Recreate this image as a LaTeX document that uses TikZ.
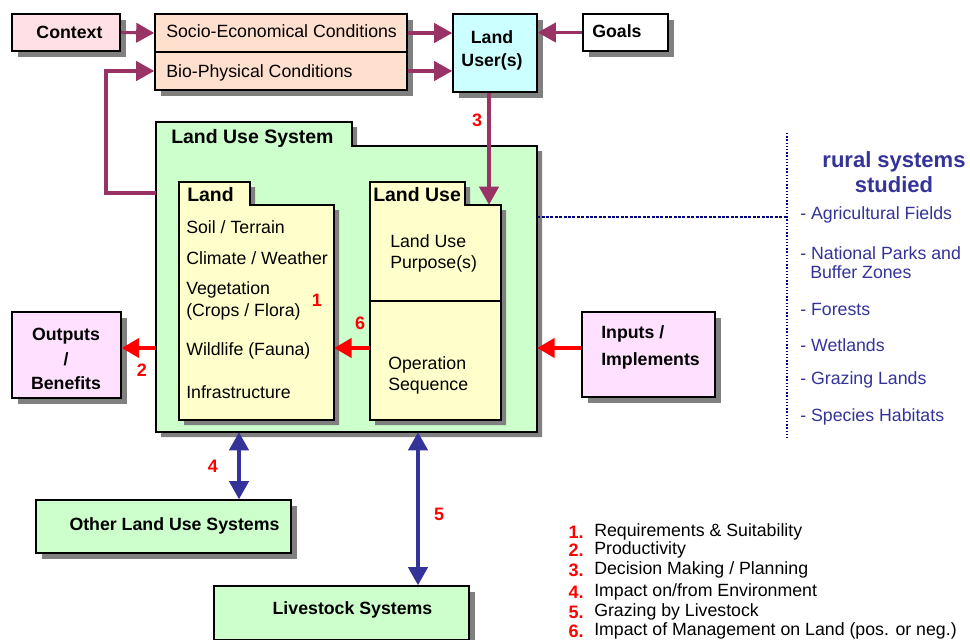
\documentclass[tikz,border=0pt]{standalone}
\usepackage{fontspec}
\setmainfont{Liberation Sans}
\usetikzlibrary{arrows.meta,shadows}

\definecolor{ctxpink}{HTML}{FFE0E6}
\definecolor{condpeach}{HTML}{FFE0CF}
\definecolor{usercyan}{HTML}{CCFFFF}
\definecolor{lusgreen}{HTML}{CCFFCC}
\definecolor{landyellow}{HTML}{FFFFCC}
\definecolor{iopink}{HTML}{FFE1FF}
\definecolor{plum}{HTML}{993366}
\definecolor{listblue}{HTML}{333399}
\definecolor{dotnavy}{HTML}{000080}
\definecolor{shadowgray}{HTML}{808080}

\tikzset{
  wh/.style 2 args={minimum width=#1*0.75pt, minimum height=#2*0.75pt},
  box/.style={draw=black, line width=1.2pt, inner sep=0pt,
    drop shadow={shadow xshift=4.5pt, shadow yshift=-4.5pt, fill=shadowgray, opacity=1}},
  area/.style={inner sep=0pt, draw=none},
  txt/.style={inner sep=0pt, font=\fontsize{13.3}{16}\selectfont},
  btxt/.style={inner sep=0pt, font=\bfseries\fontsize{13.3}{16}\selectfont},
  ttl/.style={inner sep=0pt, font=\bfseries\fontsize{14.6}{17}\selectfont},
  num/.style={inner sep=0pt, text=red, font=\bfseries\fontsize{13.5}{16}\selectfont},
  blist/.style={inner sep=0pt, text=listblue, font=\fontsize{13.3}{16}\selectfont},
  parrow/.style={draw=plum, line width=2.3pt, -{Triangle[length=13.5pt,width=14.5pt]}},
  rarrow/.style={draw=red, line width=2.3pt, -{Triangle[length=13pt,width=14.5pt]}},
  barrow/.style={draw=listblue, line width=2.3pt,
    {Triangle[length=13.5pt,width=14.5pt]}-{Triangle[length=13.5pt,width=14.5pt]}},
  dotthick/.style={draw=dotnavy, line width=2.2pt, dash pattern=on 2.2pt off 1.1pt},
  dotthin/.style={draw=dotnavy, line width=1.1pt, dash pattern=on 1.1pt off 1.3pt},
}

\begin{document}
\begin{tikzpicture}[x=0.75pt,y=-0.75pt]
\useasboundingbox (0,0) rectangle (970,639);

% ---- Land Use System folder with its two inner folders ----
\begin{scope}[shift={(5,5)}]
  \fill[shadowgray] (156,432) -- (156,122) -- (352,122) -- (352,146) -- (537,146) -- (537,432) -- cycle;
\end{scope}
\filldraw[fill=lusgreen, draw=black, line width=1pt]
  (156,432) -- (156,122) -- (352,122) -- (352,146) -- (537,146) -- (537,432) -- cycle;

\begin{scope}[shift={(5,5)}]
  \fill[shadowgray] (179,420) -- (179,182) -- (250,182) -- (250,205) -- (334,205) -- (334,420) -- cycle;
  \fill[shadowgray] (370,420) -- (370,182) -- (465,182) -- (465,205) -- (501,205) -- (501,420) -- cycle;
\end{scope}
\filldraw[fill=landyellow, draw=black, line width=0.8pt]
  (179,420) -- (179,182) -- (250,182) -- (250,205) -- (334,205) -- (334,420) -- cycle;
\filldraw[fill=landyellow, draw=black, line width=0.8pt]
  (370,420) -- (370,182) -- (465,182) -- (465,205) -- (501,205) -- (501,420) -- cycle;
\draw[line width=0.8pt] (370,301) -- (501,301);

% bodies of the folders, named for the connectors
\node[area, wh={381}{286}] (lus) at (346.5,289) {};
\node[area, wh={155}{215}] (land) at (256.5,312.5) {};
\node[area, wh={131}{215}] (lu) at (435.5,312.5) {};

\node[ttl, anchor=west] (lus-t) at (171,138) {Land Use System};
\node[ttl, anchor=west] (land-t) at (187,195) {Land};
\node[ttl, anchor=west] (lu-t) at (373,195) {Land Use};

\node[txt, anchor=west] (l1) at (186,227) {Soil / Terrain};
\node[txt, anchor=west] (l2) at (186,258) {Climate / Weather};
\node[txt, anchor=west, align=left, font=\fontsize{13.3}{16.5}\selectfont] (l3) at (186,301) {Vegetation\\(Crops / Flora)};
\node[txt, anchor=west] (l4) at (186,351) {Wildlife (Fauna)};
\node[txt, anchor=west] (l5) at (186,392) {Infrastructure};

\node[txt, anchor=west, align=left, font=\fontsize{13.3}{15.75}\selectfont] (lu1) at (390,253) {Land Use\\Purpose(s)};
\node[txt, anchor=west, align=left, font=\fontsize{13.3}{15.75}\selectfont] (lu2) at (388,375) {Operation\\Sequence};

% ---- top row ----
\node[box, fill=ctxpink, wh={108}{37}] (ctx) at (66,32.5) {};
\node[btxt] (ctx-t) at (69.5,32) {Context};

\node[box, fill=condpeach, wh={252}{38}] (socio) at (281,33) {};
\node[box, fill=condpeach, wh={252}{38}] (bio) at (281,71) {};
\node[txt, anchor=west] (socio-t) at (166,31.5) {Socio-Economical Conditions};
\node[txt, anchor=west] (bio-t) at (166,72.5) {Bio-Physical Conditions};

\node[box, fill=usercyan, wh={84}{78}] (user) at (495,53) {};
\node[btxt, align=center, font=\bfseries\fontsize{13.3}{17.25}\selectfont] (user-t) at (492,50) {Land\\User(s)};

\node[box, fill=white, wh={85}{37}] (goals) at (625.5,32.5) {};
\node[btxt, anchor=west] (goals-t) at (592,31.5) {Goals};

% ---- side boxes ----
\node[box, fill=iopink, wh={109}{86}] (outputs) at (66.5,355) {};
\node[btxt, align=center, font=\bfseries\fontsize{13.3}{18.4}\selectfont] (outputs-t) at (66,359) {Outputs\\/\\Benefits};

\node[box, fill=iopink, wh={133}{85}] (inputs) at (648.5,354.5) {};
\node[btxt, anchor=west, align=left, font=\bfseries\fontsize{13.3}{20.25}\selectfont] (inputs-t) at (601,347) {Inputs /\\Implements};

% ---- lower boxes ----
\node[box, fill=lusgreen, wh={255}{53}] (other) at (163.5,526.5) {};
\node[btxt] (other-t) at (174.5,526) {Other Land Use Systems};

\node[box, fill=lusgreen, wh={255}{54}] (live) at (341.5,613) {};
\node[btxt] (live-t) at (352.5,610) {Livestock Systems};

% ---- connectors ----
\draw[parrow] (ctx.east) -- (socio.west);
\draw[parrow] (socio.east) -- (user.west |- socio.east);
\draw[parrow] (bio.east) -- (user.west |- bio.east);
\draw[parrow] (goals.west) -- (user.east |- goals.west);

\coordinate (fb) at (106,193);
\draw[parrow] (lus.west |- fb) -- (fb) |- (bio.west);

\coordinate (a3) at (489,0);
\draw[parrow] (user.south -| a3) -- (lu.north -| a3);

\coordinate (lvl) at (0,348);
\draw[rarrow] (lus.west |- lvl) -- (outputs.east |- lvl);
\draw[rarrow] (inputs.west |- lvl) -- (lus.east |- lvl);
\draw[rarrow] (lu.west |- lvl) -- (land.east |- lvl);

\coordinate (a4) at (239,0);
\coordinate (a5) at (418,0);
\draw[barrow] (lus.south -| a4) -- (other.north -| a4);
\draw[barrow] (lus.south -| a5) -- (live.north -| a5);

% relation numbers
\node[num] (n3) at (477,120) {3};
\node[num] (n1) at (317,300) {1};
\node[num] (n6) at (360,323) {6};
\node[num] (n2) at (142,370) {2};
\node[num] (n4) at (213,466) {4};
\node[num] (n5) at (439,514) {5};

% ---- rural systems panel ----
\coordinate (vtop) at (787,133);
\coordinate (vbot) at (787,440);
\coordinate (dl) at (0,217);
\draw[dotthick] (lus.east |- dl) -- (vtop |- dl);
\draw[dotthin] (vtop) -- (vbot);

\node[inner sep=0pt, text=listblue, align=center, font=\bfseries\fontsize{16.5}{18.75}\selectfont] (rs) at (894,172) {rural systems\\studied};
\node[blist, anchor=west] (r1) at (800,215) {- Agricultural Fields};
\node[blist, anchor=west] (r2) at (800,253) {- National Parks and};
\node[blist, anchor=west] (r2b) at (810,272) {Buffer Zones};
\node[blist, anchor=west] (r3) at (800,309) {- Forests};
\node[blist, anchor=west] (r4) at (800,345) {- Wetlands};
\node[blist, anchor=west] (r5) at (800,380) {- Grazing Lands};
\node[blist, anchor=west] (r6) at (800,417) {- Species Habitats};

% ---- legend ----
\node[num, anchor=east] (k1) at (584,532) {1.};
\node[num, anchor=east] (k2) at (584,550) {2.};
\node[num, anchor=east] (k3) at (584,570) {3.};
\node[num, anchor=east] (k4) at (584,592) {4.};
\node[num, anchor=east] (k5) at (584,612) {5.};
\node[num, anchor=east] (k6) at (584,631) {6.};
\node[txt, anchor=west] (t1) at (594,532) {Requirements \& Suitability};
\node[txt, anchor=west] (t2) at (594,550) {Productivity};
\node[txt, anchor=west] (t3) at (594,570) {Decision Making / Planning};
\node[txt, anchor=west] (t4) at (594,592) {Impact on/from Environment};
\node[txt, anchor=west] (t5) at (594,612) {Grazing by Livestock};
\node[txt, anchor=west] (t6) at (594,631) {Impact of Management on Land (pos. or neg.)};
\end{tikzpicture}
\end{document}
